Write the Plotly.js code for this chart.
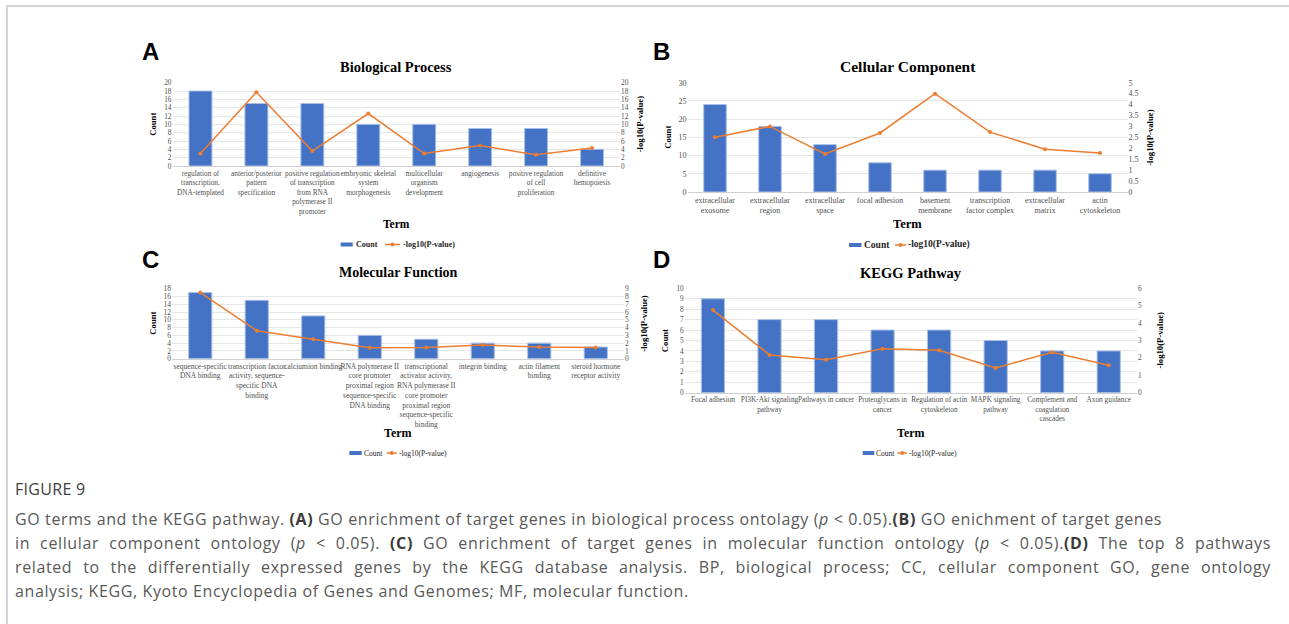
<!DOCTYPE html>
<html>
<head>
<meta charset="utf-8">
<script src="https://cdn.plot.ly/plotly-3.0.1.min.js"></script>
<style>
  html, body { margin: 0; padding: 0; background: #fff; }
  body { width: 1289px; height: 624px; position: relative; overflow: hidden; }
  #frame { position: absolute; left: 6px; top: 5px; right: -2px; bottom: -2px;
           border-top: 2px solid #d4d4d4; border-left: 2px solid #d4d4d4; }
  #chart { position: absolute; left: 0; top: 0; width: 1289px; height: 624px; }
  #caption { position: absolute; left: 15px; top: 477px; width: 1256px;
             font-family: "Open Sans", "Noto Sans", sans-serif; font-size: 16px;
             letter-spacing: 0.62px; color: #595959; line-height: 24px; }
  #caption .fig { color: #404040; font-size: 16px; margin-bottom: 6px; letter-spacing: 0.3px; }
  #caption .ln { white-space: nowrap; }
  #caption .just { text-align: justify; text-align-last: justify; white-space: normal; }
  #caption b { color: #3a3a3a; }
</style>
</head>
<body>
<div id="frame"></div>
<div id="chart"></div>
<div id="caption">
  <div class="fig">FIGURE 9</div>
  <div class="ln">GO terms and the KEGG pathway. <b>(A)</b> GO enrichment of target genes in biological process ontolagy (<i>p</i> &lt; 0.05).<b>(B)</b> GO enichment of target genes</div>
  <div class="ln just">in cellular component ontology (<i>p</i> &lt; 0.05). <b>(C)</b> GO enrichment of target genes in molecular function ontology (<i>p</i> &lt; 0.05).<b>(D)</b> The top 8 pathways</div>
  <div class="ln just">related to the differentially expressed genes by the KEGG database analysis. BP, biological process; CC, cellular component GO, gene ontology</div>
  <div class="ln">analysis; KEGG, Kyoto Encyclopedia of Genes and Genomes; MF, molecular function.</div>
</div>
<script>
// ---- Biological Process ----
const bpTerms = ['regulation of transcription, DNA-templated', 'anterior/posterior pattern specification',
  'positive regulation of transcription from RNA polymerase II promoter', 'embryonic skeletal system morphogenesis',
  'multicellular organism development', 'angiogenesis', 'positive regulation of cell proliferation', 'definitive hemopoiesis'];
const bpLabels = ['regulation of<br>transcription,<br>DNA-templated', 'anterior/posterior<br>pattern<br>specification',
  'positive regulation<br>of transcription<br>from RNA<br>polymerase II<br>promoter', 'embryonic skeletal<br>system<br>morphogenesis',
  'multicellular<br>organism<br>development', 'angiogenesis', 'positive regulation<br>of cell<br>proliferation', 'definitive<br>hemopoiesis'];
const bpCount = [18, 15, 15, 10, 10, 9, 9, 4];
const bpLogP = [3.0, 17.7, 3.6, 12.6, 3.0, 4.9, 2.7, 4.3];

// ---- Cellular Component ----
const ccTerms = ['extracellular exosome', 'extracellular region', 'extracellular space', 'focal adhesion',
  'basement membrane', 'transcription factor complex', 'extracellular matrix', 'actin cytoskeleton'];
const ccLabels = ['extracellular<br>exosome', 'extracellular<br>region', 'extracellular<br>space', 'focal adhesion',
  'basement<br>membrane', 'transcription<br>factor complex', 'extracellular<br>matrix', 'actin<br>cytoskeleton'];
const ccCount = [24, 18, 13, 8, 6, 6, 6, 5];
const ccLogP = [2.5, 3.0, 1.74, 2.7, 4.5, 2.74, 1.96, 1.78];

// ---- Molecular Function ----
const mfTerms = ['sequence-specific DNA binding', 'transcription factor activity, sequence-specific DNA binding',
  'calciumion binding', 'RNA polymerase II core promoter proximal region sequence-specific DNA binding',
  'transcriptional activator activity, RNA polymerase II core promoter proximal region sequence-specific binding',
  'integrin binding', 'actin filament binding', 'steroid hormone receptor activity'];
const mfLabels = ['sequence-specific<br>DNA binding', 'transcription factor<br>activity, sequence-<br>specific DNA<br>binding',
  'calciumion binding', 'RNA polymerase II<br>core promoter<br>proximal region<br>sequence-specific<br>DNA binding',
  'transcriptional<br>activator activity,<br>RNA polymerase II<br>core promoter<br>proximal region<br>sequence-specific<br>binding',
  'integrin binding', 'actin filament<br>binding', 'steroid hormone<br>receptor activity'];
const mfCount = [17, 15, 11, 6, 5, 4, 4, 3];
const mfLogP = [8.5, 3.6, 2.5, 1.4, 1.45, 1.76, 1.5, 1.45];

// ---- KEGG Pathway ----
const keggTerms = ['Focal adhesion', 'PI3K-Akt signaling pathway', 'Pathways in cancer', 'Proteoglycans in cancer',
  'Regulation of actin cytoskeleton', 'MAPK signaling pathway', 'Complement and coagulation cascades', 'Axon guidance'];
const keggLabels = ['Focal adhesion', 'PI3K-Akt signaling<br>pathway', 'Pathways in cancer', 'Proteoglycans in<br>cancer',
  'Regulation of actin<br>cytoskeleton', 'MAPK signaling<br>pathway', 'Complement and<br>coagulation<br>cascades', 'Axon guidance'];
const keggCount = [9, 7, 7, 6, 6, 5, 4, 4];
const keggLogP = [4.75, 2.17, 1.9, 2.52, 2.44, 1.42, 2.33, 1.58];

// ---- page geometry (pixels -> paper fractions) ----
const W = 1289, H = 624;
const px = v => v / W;
const py = v => 1 - v / H;

const BLUE = '#4472C4', ORANGE = '#ED7D31';
const SERIF = 'Liberation Serif, Times New Roman, serif';
const SANS = 'Liberation Sans, Arial, sans-serif';

// box: [left, right, top, bottom] of each plot area, in pixels
// leg: swatch start/end, "Count" text x, line start/end, series text x, legend row y
const panels = [
  {box: [172.5, 620, 82.7, 166], terms: bpTerms, labels: bpLabels, count: bpCount, logp: bpLogP,
   yL: [0, 20, 2], yR: [0, 20, 2], title: 'Biological Process', letter: 'A', titleSize: 14.5, tickSize: 7.3,
   titleY: 67, termY: 224, termSize: 11.5,
   leg: {sw: [340.7, 352.7], cnt: 354.5, ln: [385, 400], txt: 401.5, y: 244.5, size: 8, bold: true}},
  {box: [687.5, 1127.5, 82.7, 192], terms: ccTerms, labels: ccLabels, count: ccCount, logp: ccLogP,
   yL: [0, 30, 5], yR: [0, 5, 0.5], title: 'Cellular Component', letter: 'B', titleSize: 15.5, tickSize: 8,
   titleY: 67, termY: 224, termSize: 12.5,
   leg: {sw: [849, 861.5], cnt: 862.5, ln: [895, 906], txt: 906.5, y: 245, size: 9.5, bold: true}},
  {box: [172, 624, 288.7, 358.7], terms: mfTerms, labels: mfLabels, count: mfCount, logp: mfLogP,
   yL: [0, 18, 2], yR: [0, 9, 1], title: 'Molecular Function', letter: 'C', titleSize: 14, tickSize: 7.5,
   titleY: 272, termY: 433, termSize: 12,
   leg: {sw: [349.3, 361.7], cnt: 362.5, ln: [386.7, 396.7], txt: 397.5, y: 453, size: 7.5, bold: false}},
  {box: [684.7, 1137, 288.3, 392.7], terms: keggTerms, labels: keggLabels, count: keggCount, logp: keggLogP,
   yL: [0, 10, 1], yR: [0, 6, 1], title: 'KEGG Pathway', letter: 'D', titleSize: 14.5, tickSize: 7.3,
   titleY: 273, termY: 433, termSize: 12,
   leg: {sw: [862.7, 874.3], cnt: 875.5, ln: [897.5, 907], txt: 907.5, y: 453, size: 7.5, bold: false}}
];

const data = [];
const layout = {
  width: W, height: H,
  margin: {l: 0, r: 0, t: 0, b: 0},
  paper_bgcolor: 'rgba(0,0,0,0)', plot_bgcolor: 'rgba(0,0,0,0)',
  bargap: 0.59,
  font: {family: SERIF, color: '#404040'},
  annotations: [], shapes: [], showlegend: false
};

panels.forEach((p, i) => {
  const n = i + 1;
  const xa = 'xaxis' + (n === 1 ? '' : n);
  const xr = 'x' + (n === 1 ? '' : n);
  const yLi = 2 * i + 1, yRi = 2 * i + 2;
  const yLa = 'yaxis' + (yLi === 1 ? '' : yLi), yRa = 'yaxis' + yRi;
  const yLr = 'y' + (yLi === 1 ? '' : yLi), yRr = 'y' + yRi;
  const [l, r, t, b] = p.box;
  const tickFont = {family: SERIF, size: p.tickSize, color: '#505050'};

  layout[xa] = {
    domain: [px(l), px(r)], anchor: yLr, type: 'category',
    tickvals: p.terms, ticktext: p.labels, tickfont: tickFont, tickangle: 0,
    showline: true, linecolor: '#d0d0d0', linewidth: 1, ticks: '', showgrid: false
  };
  layout[yLa] = {
    domain: [py(b), py(t)], anchor: xr, range: [p.yL[0], p.yL[1]], dtick: p.yL[2],
    tickfont: tickFont, showgrid: true, gridcolor: '#e6e6e6', gridwidth: 1,
    zeroline: false, showline: false, ticks: ''
  };
  layout[yRa] = {
    domain: [py(b), py(t)], anchor: xr, overlaying: yLr, side: 'right',
    range: [p.yR[0], p.yR[1]], dtick: p.yR[2], tickfont: tickFont,
    showgrid: false, zeroline: false, showline: false, ticks: ''
  };

  data.push({
    type: 'bar', x: p.terms, y: p.count, xaxis: xr, yaxis: yLr, name: 'Count',
    marker: {color: BLUE, line: {color: '#a9bfe6', width: 1}}
  });
  data.push({
    type: 'scatter', mode: 'lines+markers', x: p.terms, y: p.logp, xaxis: xr, yaxis: yRr,
    name: '-log10(P-value)',
    line: {color: ORANGE, width: 1.5}, marker: {color: ORANGE, size: 4}
  });

  const cx = (l + r) / 2, cy = (t + b) / 2;
  const ann = layout.annotations, shp = layout.shapes;
  // panel letter
  ann.push({text: '<b>' + p.letter + '</b>', xref: 'paper', yref: 'paper',
    x: px(i % 2 === 0 ? 150 : 661), y: py(i < 2 ? 51 : 259), xanchor: 'center', yanchor: 'middle',
    showarrow: false, font: {family: SANS, size: 24, color: '#000'}});
  // chart title
  ann.push({text: '<b>' + p.title + '</b>', xref: 'paper', yref: 'paper',
    x: px(cx), y: py(p.titleY), xanchor: 'center', yanchor: 'middle',
    showarrow: false, font: {family: SERIF, size: p.titleSize, color: '#000'}});
  // x-axis title
  ann.push({text: '<b>Term</b>', xref: 'paper', yref: 'paper',
    x: px(cx), y: py(p.termY), xanchor: 'center', yanchor: 'middle',
    showarrow: false, font: {family: SERIF, size: p.termSize, color: '#000'}});
  // left y title
  ann.push({text: '<b>Count</b>', xref: 'paper', yref: 'paper', textangle: -90,
    x: px(l - 19), y: py(cy), xanchor: 'center', yanchor: 'middle',
    showarrow: false, font: {family: SERIF, size: 8.7, color: '#000'}});
  // right y title
  ann.push({text: '<b>-log10(P-value)</b>', xref: 'paper', yref: 'paper', textangle: -90,
    x: px(r + (i % 2 === 0 ? 20 : 23)), y: py(cy), xanchor: 'center', yanchor: 'middle',
    showarrow: false, font: {family: SERIF, size: 8.7, color: '#000'}});

  // legend row: blue swatch + "Count", orange line with dot + "-log10(P-value)"
  const g = p.leg;
  const legFont = {family: SERIF, size: g.size, color: '#262626', weight: g.bold ? 'bold' : 'normal'};
  shp.push({type: 'rect', xref: 'paper', yref: 'paper', x0: px(g.sw[0]), x1: px(g.sw[1]),
    y0: py(g.y + 2), y1: py(g.y - 2), fillcolor: BLUE, line: {width: 0}});
  ann.push({text: 'Count', xref: 'paper', yref: 'paper', x: px(g.cnt), y: py(g.y),
    xanchor: 'left', yanchor: 'middle', showarrow: false, font: legFont, borderpad: 0});
  shp.push({type: 'line', xref: 'paper', yref: 'paper', x0: px(g.ln[0]), x1: px(g.ln[1]),
    y0: py(g.y), y1: py(g.y), line: {color: ORANGE, width: 1.5}});
  const mx = (g.ln[0] + g.ln[1]) / 2;
  shp.push({type: 'circle', xref: 'paper', yref: 'paper', x0: px(mx - 2), x1: px(mx + 2),
    y0: py(g.y + 2), y1: py(g.y - 2), fillcolor: ORANGE, line: {width: 0}});
  ann.push({text: '-log10(P-value)', xref: 'paper', yref: 'paper', x: px(g.txt), y: py(g.y),
    xanchor: 'left', yanchor: 'middle', showarrow: false, font: legFont, borderpad: 0});
});

Plotly.newPlot('chart', data, layout, {staticPlot: true, displayModeBar: false});
</script>
</body>
</html>
